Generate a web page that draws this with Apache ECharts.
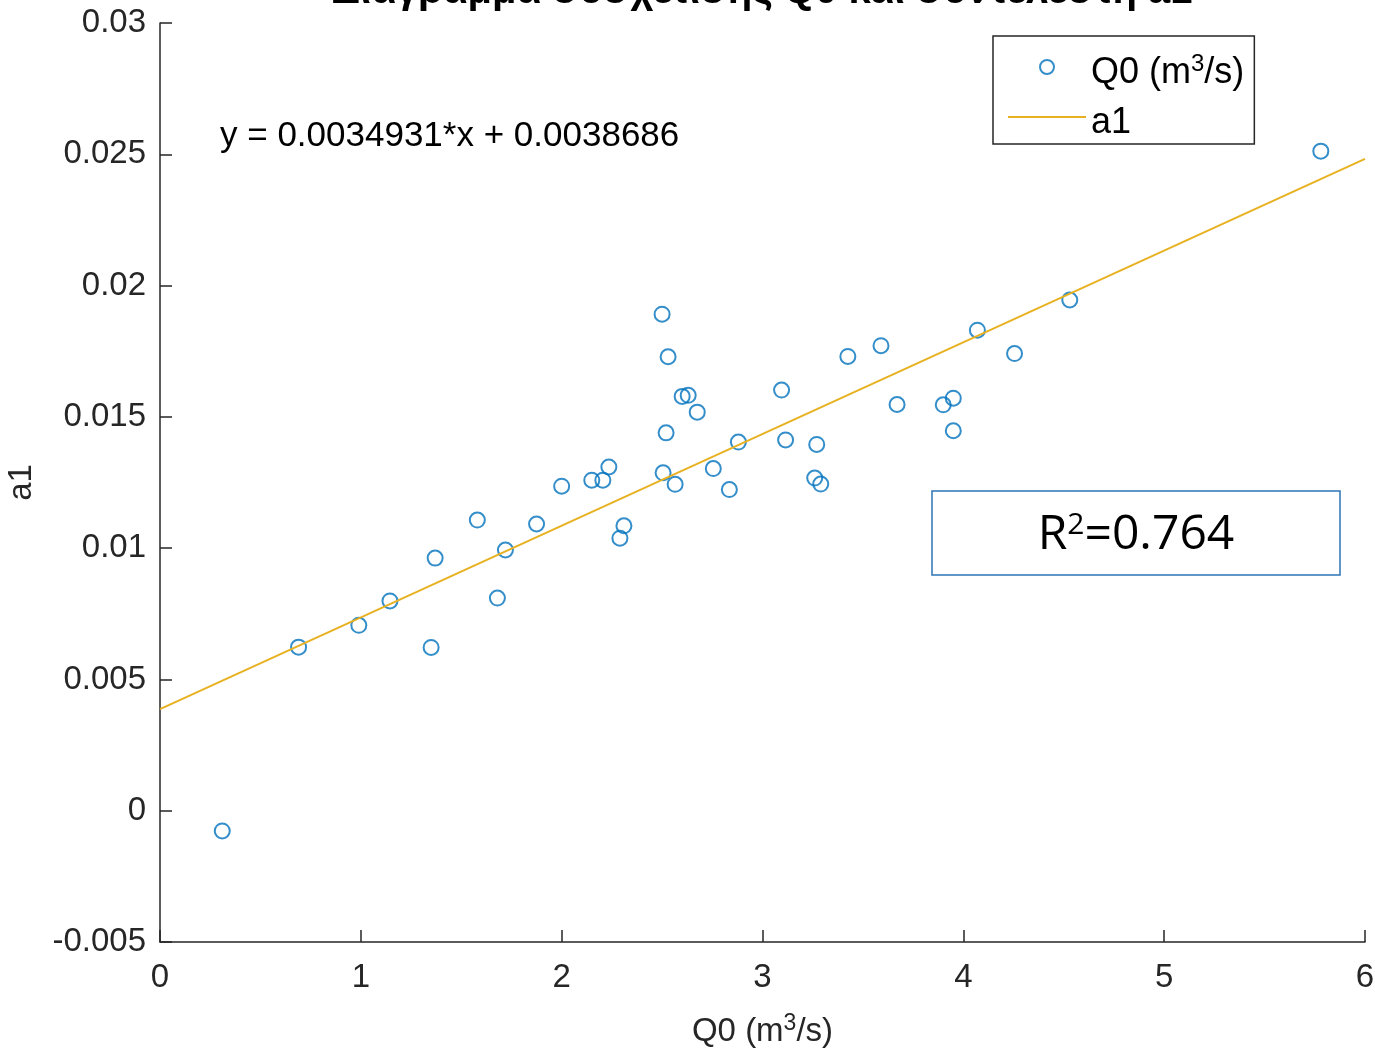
<!DOCTYPE html>
<html>
<head>
<meta charset="utf-8">
<script src="https://cdn.jsdelivr.net/npm/echarts@6/dist/echarts.min.js"></script>
<style>
  html, body { margin: 0; padding: 0; background: #fff; overflow: hidden; }
  #chart { width: 1375px; height: 1050px; }
</style>
</head>
<body>
<div id="chart"></div>
<script>
// Measured discharge Q0 (m^3/s)
const q0 = [
  0.31, 0.69, 0.99, 1.145, 1.35, 1.37, 1.58, 1.68, 1.72, 1.875,
  2.0, 2.15, 2.205, 2.235, 2.29, 2.31, 2.50, 2.53, 2.52, 2.505,
  2.565, 2.60, 2.63, 2.675, 2.755, 2.835, 2.88, 3.095, 3.115, 3.27,
  3.26, 3.29, 3.425, 3.59, 3.67, 3.90, 3.95, 3.95, 4.07, 4.255,
  4.53, 5.78
];
// Coefficient a1 for each discharge
const a1 = [
  -0.00077, 0.00623, 0.00706, 0.00799, 0.00622, 0.00962, 0.01107, 0.00810, 0.00993, 0.01092,
  0.01236, 0.01259, 0.01259, 0.01309, 0.01038, 0.01085, 0.01891, 0.01729, 0.01439, 0.01287,
  0.01243, 0.01578, 0.01582, 0.01518, 0.01303, 0.01223, 0.01404, 0.01602, 0.01412, 0.01395,
  0.01267, 0.01244, 0.01730, 0.01771, 0.01547, 0.01546, 0.01571, 0.01447, 0.01830, 0.01741,
  0.01945, 0.02512
];
// Least-squares fit coefficients
const slope = 0.0034931;
const intercept = 0.0038686;
const r2 = 0.764;
const xTicks = [0, 1, 2, 3, 4, 5, 6];
const yTicks = [-0.005, 0, 0.005, 0.01, 0.015, 0.02, 0.025, 0.03];

const xMin = xTicks[0], xMax = xTicks[xTicks.length - 1];
const fitLine = [[xMin, intercept + slope * xMin], [xMax, intercept + slope * xMax]];
const points = q0.map((x, i) => [x, a1[i]]);

const FONT = '"Liberation Sans", Arial, Helvetica, sans-serif';
const AXIS_COLOR = '#262626';

const chart = echarts.init(document.getElementById('chart'), null, { renderer: 'canvas' });

chart.setOption({
  backgroundColor: '#ffffff',
  animation: false,
  grid: { left: 160, right: 10, top: 23, bottom: 108, containLabel: false, outerBoundsMode: 'none' },
  xAxis: {
    type: 'value',
    min: xMin, max: xMax, interval: 1,
    name: 'Q0 (m{sup|3}/s)',
    nameLocation: 'middle',
    nameGap: 70,
    nameTextStyle: {
      fontFamily: FONT, fontSize: 33, color: AXIS_COLOR,
      rich: { sup: { fontFamily: FONT, fontSize: 23, color: AXIS_COLOR, verticalAlign: 'top', padding: [0, 0, 16, 0] } }
    },
    axisLine: { show: true, onZero: false, lineStyle: { color: AXIS_COLOR, width: 1.5 } },
    axisTick: { show: true, inside: true, length: 12, lineStyle: { color: AXIS_COLOR, width: 1.5 } },
    axisLabel: { fontFamily: FONT, fontSize: 33, color: AXIS_COLOR, margin: 19 },
    splitLine: { show: false }
  },
  yAxis: {
    type: 'value',
    min: yTicks[0], max: yTicks[yTicks.length - 1], interval: 0.005,
    name: 'a1',
    nameLocation: 'middle',
    nameGap: 122,
    nameRotate: 90,
    nameTextStyle: { fontFamily: FONT, fontSize: 33, color: AXIS_COLOR },
    axisLine: { show: true, onZero: false, lineStyle: { color: AXIS_COLOR, width: 1.5 } },
    axisTick: { show: true, inside: true, length: 12, lineStyle: { color: AXIS_COLOR, width: 1.5 } },
    axisLabel: {
      fontFamily: FONT, fontSize: 33, color: AXIS_COLOR, margin: 14,
      formatter: v => String(+v.toFixed(3))
    },
    splitLine: { show: false }
  },
  legend: {
    orient: 'vertical',
    left: 993, top: 36,
    padding: [4, 10, 0, 15],
    itemWidth: 78, itemHeight: 14, itemGap: -4,
    borderColor: AXIS_COLOR, borderWidth: 1.5,
    backgroundColor: '#fff',
    textStyle: {
      fontFamily: FONT, fontSize: 36, color: '#000', lineHeight: 42,
      padding: [12, 0, 0, 0],
      rich: { sup: { fontFamily: FONT, fontSize: 24, color: '#000', verticalAlign: 'top', padding: [0, 0, 18, 0] } }
    },
    formatter: name => name === 'Q0' ? 'Q0 (m{sup|3}/s)' : name,
    data: [
      { name: 'Q0' },
      { name: 'a1', icon: 'path://M0,0 L78,0 L78,2 L0,2 Z' }
    ]
  },
  series: [
    {
      name: 'Q0',
      type: 'scatter',
      data: points,
      symbol: 'circle',
      symbolSize: 15,
      itemStyle: { color: 'rgba(0,0,0,0)', borderColor: '#0072BD', borderWidth: 2 },
      z: 3
    },
    {
      name: 'a1',
      type: 'line',
      data: fitLine,
      showSymbol: false,
      symbol: 'none',
      lineStyle: { color: '#E8B121', width: 2 },
      itemStyle: { color: '#E8B121' },
      z: 4
    }
  ],
  graphic: [
    {
      type: 'text',
      x: 762, y: -8,
      style: {
        text: 'Διάγραμμα συσχέτισης Q0 και συντελεστή a1',
        font: 'bold 40px ' + FONT,
        fill: '#000',
        align: 'center',
        verticalAlign: 'middle'
      }
    },
    {
      type: 'text',
      x: 220, y: 136,
      style: {
        text: 'y = ' + slope + '*x + ' + intercept,
        font: '35px ' + FONT,
        fill: '#000',
        align: 'left',
        verticalAlign: 'middle'
      }
    },
    {
      type: 'group',
      x: 932, y: 491,
      children: [
        {
          type: 'rect',
          shape: { x: 0, y: 0, width: 408, height: 84 },
          style: { fill: '#fff', stroke: '#2E75B6', lineWidth: 1.5 }
        },
        {
          type: 'text',
          x: 204, y: 44,
          style: {
            text: '{n|R}{s|2}{n|=' + r2 + '}',
            align: 'center',
            verticalAlign: 'middle',
            rich: {
              n: { fontFamily: '"Open Sans", "Noto Sans", sans-serif', fontSize: 48, fill: '#000' },
              s: { fontFamily: '"Open Sans", "Noto Sans", sans-serif', fontSize: 30, fill: '#000', verticalAlign: 'top', padding: [0, 0, 20, 0] }
            }
          }
        }
      ]
    }
  ]
});
</script>
</body>
</html>
